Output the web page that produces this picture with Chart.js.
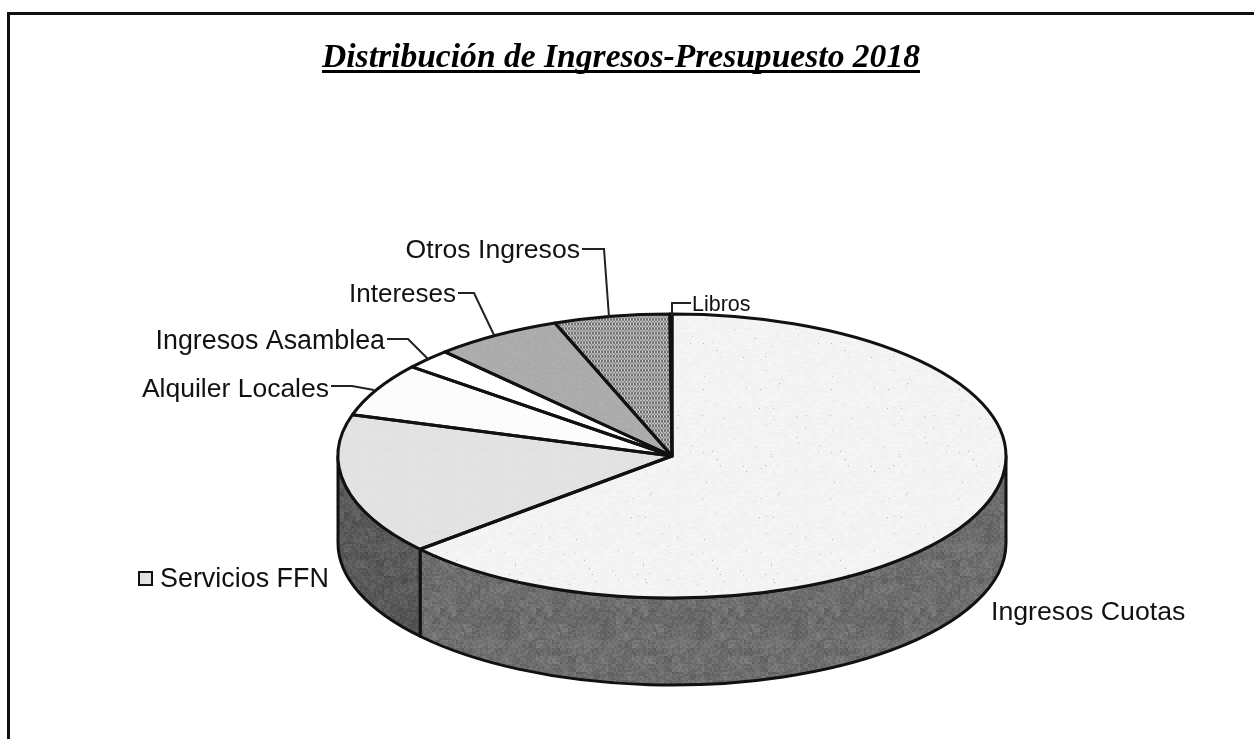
<!DOCTYPE html>
<html lang="es">
<head>
<meta charset="utf-8">
<style>
html,body{margin:0;padding:0;background:#fff;overflow:hidden}
#wrap{position:relative;width:1254px;height:739px}
canvas{position:absolute;left:0;top:0}
</style>
<script src="https://cdn.jsdelivr.net/npm/chart.js@4/dist/chart.umd.js"></script>
</head>
<body>
<div id="wrap"><canvas id="c" width="1254" height="739"></canvas></div>
<script>
const categories = ["Ingresos Cuotas","Servicios FFN","Alquiler Locales","Ingresos Asamblea","Intereses","Otros Ingresos","Libros"];
const values = [63.6,16.1,6.1,2.3,6.2,5.6,0.1];
const chartTitle = "Distribución de Ingresos-Presupuesto 2018";

const CX=672, CY=456, RX=334, KY=142/334, DEPTH=87;

function hash(x,y){let h=(x*374761393+y*668265263)|0;h=Math.imul(h^(h>>>13),1274126177);return ((h^(h>>>16))>>>0)/4294967296;}
function tile(size,fn){
  const c=document.createElement('canvas');c.width=c.height=size;
  const x=c.getContext('2d');const d=x.createImageData(size,size);
  for(let j=0;j<size;j++)for(let i=0;i<size;i++){
    const v=Math.max(0,Math.min(255,fn(i,j)));const k=(j*size+i)*4;
    d.data[k]=d.data[k+1]=d.data[k+2]=v;d.data[k+3]=255;
  }
  x.putImageData(d,0,0);return x.createPattern(c,'repeat');
}
const faces=[
  tile(128,(i,j)=>{const h=hash(i,j);return h>0.9975?170:241+5*hash(i>>2,j>>2);}),
  tile(48,(i,j)=>224+5*hash(i>>1,j>>1)),
  tile(48,(i,j)=>250+4*hash(i>>1,j>>1)),
  tile(8,()=>255),
  tile(48,(i,j)=>168+8*hash(i>>1,j>>1)),
  tile(6,(i,j)=>((i%3===0)!==(j%3===1))?205:112),
  tile(8,()=>255)
];
const sides=[
  tile(96,(i,j)=>110+22*(hash(i>>1,j>>1)-0.5)+16*(hash(i>>3,j>>3)-0.5)),
  tile(96,(i,j)=>90+20*(hash(i>>1,j>>1)-0.5)+14*(hash(i>>3,j>>3)-0.5))
];

const labelSpec = [
 {text:"Ingresos Cuotas",x:991,y:620,size:26.7},
 {text:"Servicios FFN",x:160,y:587,size:26.9,key:1},
 {text:"Alquiler Locales",x:329,y:397,size:26.5,align:'right',path:[[331,386],[352,386],[374,390]]},
 {text:"Ingresos Asamblea",x:385,y:349,size:26.8,align:'right',path:[[387,339],[408,339],[429,360]]},
 {text:"Intereses",x:456,y:302,size:26,align:'right',path:[[458,293],[474,293],[494,335]]},
 {text:"Otros Ingresos",x:580,y:258,size:26.6,align:'right',path:[[582,249],[604,249],[609,317]]},
 {text:"Libros",x:692,y:311,size:21.5,path:[[691,303],[672,303],[672,316]]}
];

const look3d = {
  id:'look3d',
  beforeDatasetsDraw(chart){
    const ctx=chart.ctx, arcs=chart.getDatasetMeta(0).data;
    ctx.save();
    arcs.forEach((a,i)=>{
      const lo=Math.max(a.startAngle,0), hi=Math.min(a.endAngle,Math.PI);
      if(hi<=lo) return;
      ctx.beginPath();
      ctx.ellipse(a.x,a.y,a.outerRadius,a.outerRadius*KY,0,lo,hi);
      ctx.ellipse(a.x,a.y+DEPTH,a.outerRadius,a.outerRadius*KY,0,hi,lo,true);
      ctx.closePath();
      ctx.fillStyle=sides[i]||sides[0];ctx.fill();
      ctx.lineWidth=3;ctx.strokeStyle='#111';ctx.lineJoin='round';ctx.stroke();
    });
    ctx.restore();
    ctx.save();
    ctx.translate(CX,CY);ctx.scale(1,KY);ctx.translate(-CX,-CY);
  },
  afterDatasetsDraw(chart){
    const ctx=chart.ctx, arcs=chart.getDatasetMeta(0).data;
    ctx.restore();
    ctx.save();
    ctx.strokeStyle='#111';ctx.lineWidth=3;ctx.lineJoin='round';
    arcs.forEach(a=>{
      ctx.beginPath();
      ctx.moveTo(a.x,a.y);
      ctx.ellipse(a.x,a.y,a.outerRadius,a.outerRadius*KY,0,a.startAngle,a.endAngle);
      ctx.closePath();ctx.stroke();
    });
    ctx.restore();
  },
  afterDraw(chart){
    const ctx=chart.ctx;
    ctx.save();
    ctx.strokeStyle='#111';ctx.lineWidth=3;
    ctx.beginPath();ctx.moveTo(8.5,739);ctx.lineTo(8.5,13.5);ctx.lineTo(1254,13.5);ctx.stroke();
    ctx.fillStyle='#000';ctx.textBaseline='alphabetic';ctx.textAlign='center';
    ctx.font='italic bold 33.6px "Liberation Serif"';
    ctx.fillText(chartTitle,621,67);
    const w=ctx.measureText(chartTitle).width;
    ctx.fillRect(621-w/2,70,w,3);
    labelSpec.forEach(l=>{
      ctx.font=l.size+'px "Liberation Sans"';
      ctx.textAlign=l.align||'left';
      ctx.fillStyle='#111';
      ctx.fillText(l.text,l.x,l.y);
      if(l.path){
        ctx.beginPath();l.path.forEach((p,i)=>i?ctx.lineTo(p[0],p[1]):ctx.moveTo(p[0],p[1]));
        ctx.lineWidth=2;ctx.strokeStyle='#222';ctx.stroke();
      }
      if(l.key){
        ctx.fillStyle=faces[1];ctx.strokeStyle='#111';ctx.lineWidth=2;
        ctx.fillRect(139,572,13,13);ctx.strokeRect(139,572,13,13);
      }
    });
    ctx.restore();
  }
};

new Chart(document.getElementById('c'),{
  type:'pie',
  data:{labels:categories,datasets:[{data:values,backgroundColor:faces,borderWidth:0,radius:RX}]},
  options:{
    responsive:false,animation:false,
    layout:{padding:{left:2*CX-1254,top:2*CY-739,right:0,bottom:0}},
    plugins:{legend:{display:false},title:{display:false},tooltip:{enabled:false}}
  },
  plugins:[look3d]
});
</script>
</body>
</html>
